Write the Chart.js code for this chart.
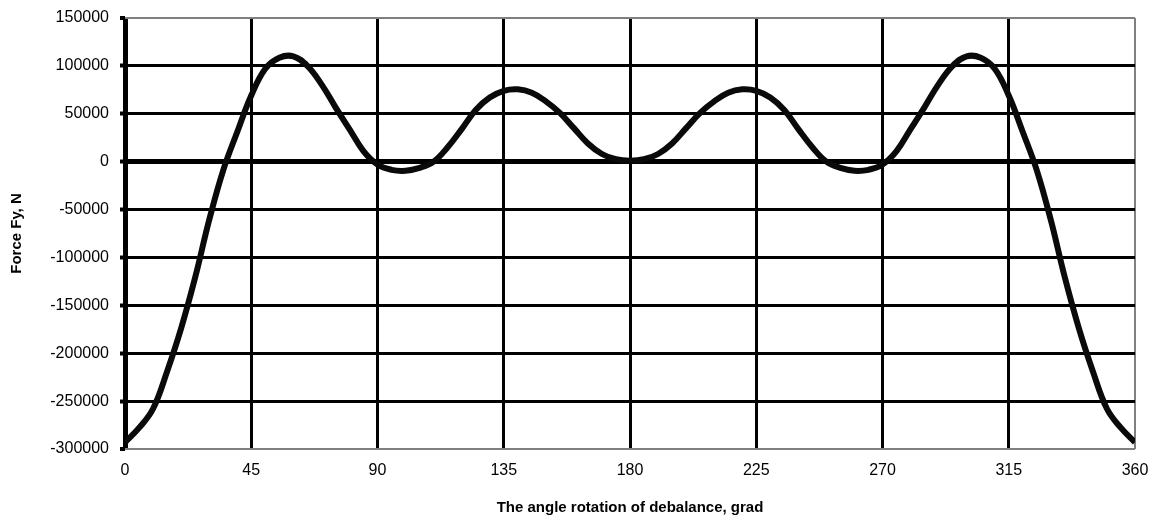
<!DOCTYPE html>
<html>
<head>
<meta charset="utf-8">
<script src="https://cdn.jsdelivr.net/npm/chart.js@4/dist/chart.umd.min.js"></script>
<style>
  html, body { margin: 0; padding: 0; background: #fff; }
  #wrap { width: 1153px; height: 524px; }
</style>
</head>
<body>
<div id="wrap"><canvas id="c"></canvas></div>
<script>
// angle of the debalance, degrees (every 5 grad)
const angles = [0, 5, 10, 15, 20, 25, 30, 35, 40, 45, 50, 55, 60, 65, 70, 75, 80, 85, 90,
  95, 100, 105, 110, 115, 120, 125, 130, 135, 140, 145, 150, 155, 160, 165, 170, 175, 180,
  185, 190, 195, 200, 205, 210, 215, 220, 225, 230, 235, 240, 245, 250, 255, 260, 265, 270,
  275, 280, 285, 290, 295, 300, 305, 310, 315, 320, 325, 330, 335, 340, 345, 350, 355, 360];

// force Fy, N
const forceFy = [-293000, -278000, -258000, -219000, -174000, -121000, -61000, -9000, 31000, 69000,
  97000, 108500, 110000, 100000, 81000, 57000, 34000, 11000, -3000,
  -8500, -9500, -6500, 0, 15000, 34000, 54000, 67000, 74000, 75500, 72000, 63000, 51000,
  35000, 19000, 8000, 2500, 1000,
  2500, 8000, 19000, 35000, 51000, 63000, 72000, 75500, 74000, 67000, 54000, 34000, 15000,
  0, -6500, -9500, -8500, -3000,
  11000, 34000, 57000, 81000, 100000, 110000, 108500, 97000, 69000, 31000, -9000, -61000,
  -121000, -174000, -219000, -258000, -278000, -293000];

const xTicks = [0, 45, 90, 135, 180, 225, 270, 315, 360];
const yTicks = [-300000, -250000, -200000, -150000, -100000, -50000, 0, 50000, 100000, 150000];

const xTitle = 'The angle rotation of debalance, grad';
const yTitle = 'Force Fy, N';

const fontName = '"Liberation Sans", Arial, sans-serif';

const points = angles.map((a, i) => ({ x: a, y: forceFy[i] }));

new Chart(document.getElementById('c'), {
  type: 'line',
  data: {
    datasets: [{
      data: points,
      borderColor: '#0a0a0a',
      borderWidth: 6,
      pointRadius: 0,
      tension: 0.4,
      fill: false
    }]
  },
  options: {
    responsive: true,
    maintainAspectRatio: false,
    animation: false,
    devicePixelRatio: 1,
    layout: { padding: { left: 0, right: 18, top: 18, bottom: 0 } },
    plugins: { legend: { display: false }, tooltip: { enabled: false } },
    scales: {
      x: {
        type: 'linear',
        min: 0,
        max: 360,
        afterBuildTicks: axis => { axis.ticks = xTicks.map(v => ({ value: v })); },
        afterFit: axis => {
          axis.height = 75;
          axis.paddingLeft = 0;
          axis.paddingRight = 0;
        },
        border: { display: false },
        grid: {
          drawTicks: false,
          color: ctx => ctx.tick && ctx.tick.value === 360 ? '#808080' : '#000',
          lineWidth: ctx => {
            if (!ctx.tick) return 3;
            if (ctx.tick.value === 0) return 5;
            if (ctx.tick.value === 360) return 2;
            return 3;
          }
        },
        ticks: {
          color: '#000',
          padding: 12,
          maxRotation: 0,
          font: { family: fontName, size: 16 }
        },
        title: {
          display: true,
          text: xTitle,
          color: '#000',
          font: { family: fontName, size: 15, weight: 'bold' },
          padding: { top: 0, bottom: 7 }
        }
      },
      y: {
        min: -300000,
        max: 150000,
        afterBuildTicks: axis => { axis.ticks = yTicks.map(v => ({ value: v })); },
        afterFit: axis => {
          axis.width = 125;
          axis.paddingTop = 0;
          axis.paddingBottom = 0;
        },
        border: { display: false },
        grid: {
          tickLength: 5,
          tickColor: '#000',
          tickWidth: 4,
          color: ctx => {
            if (!ctx.tick) return '#000';
            const v = ctx.tick.value;
            return (v === 150000 || v === -300000) ? '#808080' : '#000';
          },
          lineWidth: ctx => {
            if (!ctx.tick) return 3;
            const v = ctx.tick.value;
            if (v === 0) return 5;
            if (v === 150000 || v === -300000) return 2;
            return 3;
          }
        },
        ticks: {
          color: '#000',
          padding: 11,
          font: { family: fontName, size: 16 },
          callback: v => String(v)
        },
        title: {
          display: true,
          text: yTitle,
          color: '#000',
          font: { family: fontName, size: 15, weight: 'bold' },
          padding: { top: 8, bottom: 0 }
        }
      }
    }
  }
});
</script>
</body>
</html>
